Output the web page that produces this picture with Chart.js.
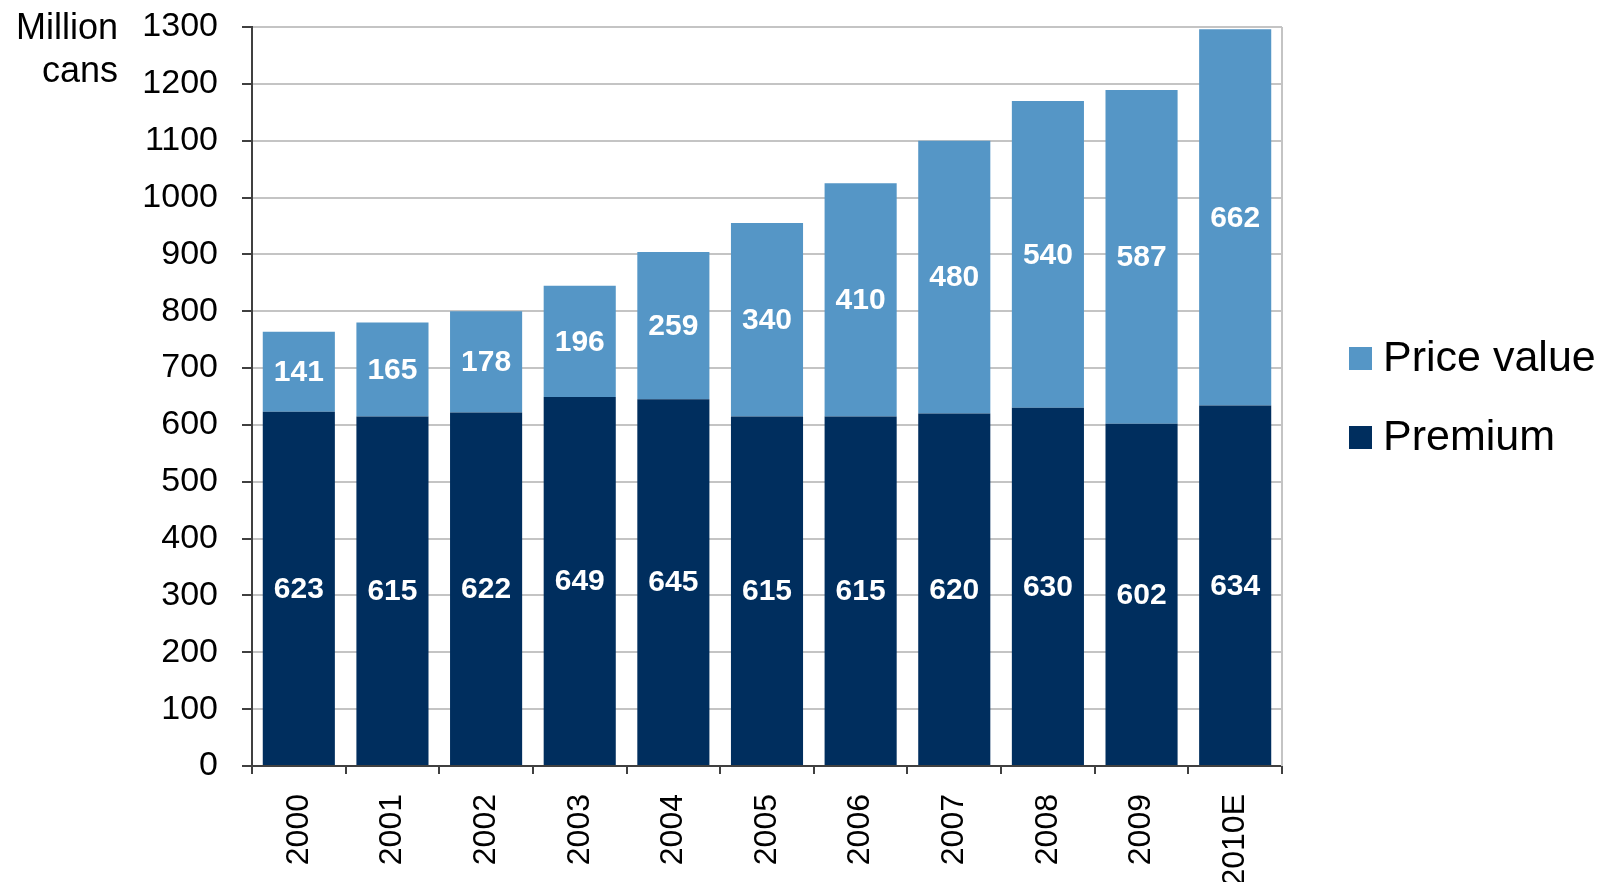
<!DOCTYPE html>
<html>
<head>
<meta charset="utf-8">
<title>Million cans</title>
<script src="https://cdn.jsdelivr.net/npm/chart.js@4.4.1/dist/chart.umd.min.js"></script>
<style>
  html, body { margin: 0; padding: 0; background: #fff; }
  canvas { display: block; }
</style>
</head>
<body>
<canvas id="cans" width="1601" height="882"></canvas>
<script>
// values
const years = ['2000', '2001', '2002', '2003', '2004', '2005', '2006', '2007', '2008', '2009', '2010E'];
const premium = [623, 615, 622, 649, 645, 615, 615, 620, 630, 602, 634];
const priceValue = [141, 165, 178, 196, 259, 340, 410, 480, 540, 587, 662];
const axisTitle = ['Million', 'cans'];

const DARK = '#002e5e';
const LIGHT = '#5596c6';
const FONT = "'Liberation Sans', Arial, sans-serif";

// white numbers in the middle of each segment
const segmentLabels = {
  id: 'segmentLabels',
  afterDatasetsDraw(chart) {
    const ctx = chart.ctx;
    ctx.save();
    ctx.fillStyle = '#fff';
    ctx.font = 'bold 30px ' + FONT;
    ctx.textAlign = 'center';
    ctx.textBaseline = 'middle';
    chart.data.datasets.forEach((ds, i) => {
      chart.getDatasetMeta(i).data.forEach((bar, j) => {
        const { x, y, base } = bar.getProps(['x', 'y', 'base'], true);
        ctx.fillText(String(ds.data[j]), x, (y + base) / 2 + 1);
      });
    });
    ctx.restore();
  }
};

// right frame line, axis title, legend on the right
const extras = {
  id: 'extras',
  beforeDatasetsDraw(chart) {
    const { ctx, chartArea } = chart;
    ctx.save();
    ctx.strokeStyle = '#c4c4c4';
    ctx.lineWidth = 2;
    ctx.beginPath();
    ctx.moveTo(chartArea.right, chartArea.top);
    ctx.lineTo(chartArea.right, chartArea.bottom);
    ctx.stroke();
    ctx.restore();
  },
  afterDraw(chart) {
    const { ctx, chartArea } = chart;
    ctx.save();
    ctx.fillStyle = '#000';
    ctx.font = '36px ' + FONT;
    ctx.textAlign = 'right';
    ctx.textBaseline = 'middle';
    axisTitle.forEach((line, i) => {
      ctx.fillText(line, chartArea.left - 134, chartArea.top + 2 + i * 43);
    });

    const mid = (chartArea.top + chartArea.bottom) / 2;
    const items = chart.data.datasets.slice().reverse();
    ctx.font = '43px ' + FONT;
    ctx.textAlign = 'left';
    items.forEach((ds, i) => {
      const cy = mid - 38 + i * 79;
      ctx.fillStyle = ds.backgroundColor;
      ctx.fillRect(chartArea.right + 67, cy - 11.5, 23, 23);
      ctx.fillStyle = '#000';
      ctx.fillText(ds.label, chartArea.right + 101, cy + 1);
    });
    ctx.restore();
  }
};

new Chart(document.getElementById('cans'), {
  type: 'bar',
  data: {
    labels: years,
    datasets: [
      { label: 'Premium', data: premium, backgroundColor: DARK },
      { label: 'Price value', data: priceValue, backgroundColor: LIGHT }
    ]
  },
  options: {
    responsive: false,
    animation: false,
    barPercentage: 0.77,
    categoryPercentage: 1,
    layout: { padding: { top: 27, right: 319, left: 0, bottom: 0 } },
    plugins: {
      legend: { display: false },
      tooltip: { enabled: false }
    },
    scales: {
      x: {
        stacked: true,
        afterFit(scale) {
          scale.height = 116;
          scale.paddingLeft = 0;
          scale.paddingRight = 0;
        },
        grid: {
          offset: true,
          drawOnChartArea: false,
          tickLength: 8,
          tickColor: '#404040',
          lineWidth: 2
        },
        border: { color: '#404040', width: 2 },
        ticks: {
          autoSkip: false,
          minRotation: 90,
          maxRotation: 90,
          padding: 20,
          color: '#000',
          font: { family: FONT, size: 32 }
        }
      },
      y: {
        stacked: true,
        min: 0,
        max: 1300,
        afterFit(scale) {
          scale.width = 252;
          scale.paddingTop = 0;
          scale.paddingBottom = 0;
        },
        grid: {
          color: '#c4c4c4',
          lineWidth: 2,
          tickLength: 10,
          tickColor: '#404040'
        },
        border: { color: '#404040', width: 2 },
        ticks: {
          stepSize: 100,
          padding: 24,
          color: '#000',
          font: { family: FONT, size: 34 },
          callback: v => String(v)
        }
      }
    }
  },
  plugins: [segmentLabels, extras]
});
</script>
</body>
</html>
